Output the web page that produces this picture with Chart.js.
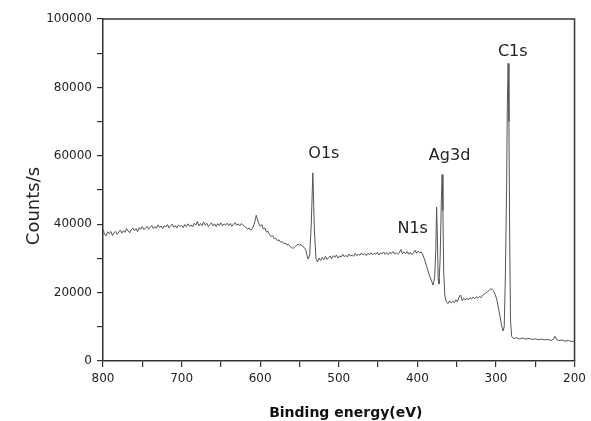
<!DOCTYPE html>
<html>
<head>
<meta charset="utf-8">
<script src="https://cdn.jsdelivr.net/npm/chart.js@4"></script>
<style>
  html, body { margin: 0; padding: 0; background: #fff; }
  #wrap { width: 591px; height: 421px; }
</style>
</head>
<body>
<div id="wrap"><canvas id="xpsChart" width="591" height="421"></canvas></div>
<script>
// XPS survey spectrum
const energy = [
  800, 798, 796, 794, 792, 790, 788, 786, 784, 782,
  780, 778, 776, 774, 772, 770, 768, 766, 764, 762,
  760, 758, 756, 754, 752, 750, 748, 746, 744, 742,
  740, 738, 736, 734, 732, 730, 728, 726, 724, 722,
  720, 718, 716, 714, 712, 710, 708, 706, 704, 702,
  700, 698, 696, 694, 692, 690, 688, 686, 684, 682,
  680, 678, 676, 674, 672, 670, 668, 666, 664, 662,
  660, 658, 656, 654, 652, 650, 648, 646, 644, 642,
  640, 638, 636, 634, 632, 630, 628, 626, 624, 622,
  620, 618, 616, 614, 612, 610, 608, 606, 605, 604,
  602, 600, 598, 596, 594, 592, 590, 588, 586, 584,
  582, 580, 578, 576, 574, 572, 570, 568, 566, 564,
  562, 560, 558, 556, 554, 552, 550, 548, 546, 544,
  542, 540, 539, 537, 535, 533, 531, 529, 527, 525,
  523, 521, 519, 517, 515, 513, 511, 509, 507, 505,
  503, 501, 499, 497, 495, 493, 491, 489, 487, 485,
  483, 481, 479, 477, 475, 473, 471, 469, 467, 465,
  463, 461, 459, 457, 455, 453, 451, 449, 447, 445,
  443, 441, 439, 437, 435, 433, 431, 429, 427, 425,
  423, 421, 419, 417, 415, 413, 411, 409, 407, 405,
  403, 401, 399, 397, 395, 393, 391, 388, 385, 382,
  380, 378, 376.5, 375.5, 374.5, 373.5, 372.5, 371, 369.5, 368.5,
  367.5, 366.5, 365, 363, 361, 359, 357, 355, 353, 351,
  349, 347, 345, 343, 341, 339, 337, 335, 333, 331,
  329, 327, 325, 323, 321, 319, 317, 315, 313, 311,
  309, 307, 305, 303, 301, 299, 296, 293, 291, 289.5,
  288, 286.5, 285.5, 284.5, 283.5, 282.5, 281.5, 280, 278, 274,
  270, 266, 262, 258, 254, 250, 246, 242, 238, 234,
  230, 227, 225, 223, 220, 216, 212, 208, 204, 200
];
const counts = [
  38500, 37000, 36600, 37800, 37200, 37900, 36700, 37500, 37900, 37000,
  37700, 38300, 37400, 38100, 37600, 38700, 38000, 37500, 38400, 38900,
  38100, 38700, 37800, 39000, 38500, 39300, 38400, 38900, 39400, 38600,
  39000, 39600, 38700, 39300, 38800, 39800, 39100, 39500, 38700, 39600,
  39200, 39900, 38900, 39500, 40000, 39100, 39600, 38900, 39800, 39300,
  39700, 39000, 39900, 39300, 40100, 39400, 39800, 39200, 40300, 39700,
  40800, 39500, 40200, 39600, 40700, 39700, 40300, 39300, 39900, 40400,
  39500, 40100, 39300, 40200, 39600, 40400, 39500, 40100, 39700, 40300,
  39600, 40200, 39400, 40000, 40500, 39700, 40100, 39500, 40200, 39800,
  39400, 39000, 38600, 38900, 38200, 38700, 39800, 41500, 42600, 41800,
  40300, 39400, 39900, 38600, 38900, 37700, 37900, 37000, 36400, 36600,
  35700, 35900, 35200, 35400, 34800, 34900, 34300, 34500, 33900, 34100,
  33500, 33200, 32900, 33400, 33700, 34200, 33800, 34100, 33500, 33200,
  32500, 30500, 29800, 31000, 40000, 55000, 38000, 30000, 29000, 30100,
  29400, 30300, 29600, 30600, 29700, 30200, 30700, 29900, 30800, 30300,
  31000, 30100, 30700, 30400, 31200, 30500, 30900, 30400, 31300, 30700,
  31000, 30600, 31500, 30800, 31200, 30900, 31600, 31000, 31400, 30800,
  31500, 31100, 31700, 31000, 31500, 31200, 31800, 31000, 31600, 31300,
  31900, 31200, 31700, 31100, 31800, 31400, 32000, 31300, 31700, 31200,
  31600, 32600, 31400, 31900, 31300, 32000, 31200, 31800, 31100, 31600,
  32400, 31500, 32100, 31600, 31900, 31000, 29800, 27500, 25200, 23400,
  22200, 24500, 33000, 45000, 36000, 24000, 22500, 30000, 47000, 54500,
  44000, 26000, 19000, 17200, 16800, 17600, 17000, 17500, 17100, 17900,
  17300, 18700, 19300, 17600, 18300, 17800, 18400, 17900, 18500, 18100,
  18700, 18200, 18800, 18400, 18900, 18500, 19200, 19500, 19900, 20200,
  20600, 21100, 21000, 20500, 19500, 18000, 14500, 10500, 8800, 10000,
  25000, 50000, 75000, 87000, 70000, 35000, 12000, 7200, 6600, 6800,
  6500, 6700, 6400, 6600, 6300, 6500, 6200, 6400, 6200, 6300,
  6000, 6400, 7200, 6300, 6000, 6100, 5800, 6000, 5700, 5800
];

// peak labels (in data units)
const peakNames = ['O1s', 'N1s', 'Ag3d', 'C1s'];
const peakLabelX = [519, 406, 359, 278.6];
const peakLabelY = [60700, 38700, 59900, 90500];

const xTitle = 'Binding energy(eV)';
const yTitle = 'Counts/s';

const spectrum = energy.map((e, i) => ({ x: e, y: counts[i] }));

Chart.defaults.font.family = '"DejaVu Sans", sans-serif';
Chart.defaults.color = '#222';

const framePlugin = {
  id: 'frame',
  beforeDraw(chart) {
    const ctx = chart.ctx;
    ctx.save();
    ctx.fillStyle = '#fff';
    ctx.fillRect(0, 0, chart.width, chart.height);
    ctx.restore();
  },
  afterDraw(chart) {
    const { ctx, chartArea: a, scales } = chart;
    ctx.save();
    // top and right border of the box
    ctx.strokeStyle = '#333';
    ctx.lineWidth = 1.5;
    ctx.beginPath();
    ctx.moveTo(a.left, a.top);
    ctx.lineTo(a.right, a.top);
    ctx.lineTo(a.right, a.bottom);
    ctx.stroke();

    ctx.textAlign = 'center';
    ctx.textBaseline = 'middle';

    // peak names
    ctx.font = '16px "DejaVu Sans"';
    ctx.fillStyle = '#222';
    peakNames.forEach((name, i) => {
      ctx.fillText(name, scales.x.getPixelForValue(peakLabelX[i]), scales.y.getPixelForValue(peakLabelY[i]));
    });

    // axis titles
    ctx.font = 'bold 14px "DejaVu Sans"';
    ctx.fillStyle = '#111';
    ctx.fillText(xTitle, (a.left + a.right) / 2 + 7, chart.height - 8);

    ctx.font = '18px "DejaVu Sans"';
    ctx.fillStyle = '#222';
    ctx.translate(34, (a.top + a.bottom) / 2 + 16);
    ctx.rotate(-Math.PI / 2);
    ctx.fillText(yTitle, 0, 0);
    ctx.restore();
  }
};

const ctx = document.getElementById('xpsChart').getContext('2d');
const xpsChart = new Chart(ctx, {
  type: 'line',
  data: {
    datasets: [{
      data: spectrum,
      borderColor: '#555',
      borderWidth: 1,
      pointRadius: 0,
      tension: 0,
      fill: false
    }]
  },
  options: {
    responsive: false,
    animation: false,
    layout: { padding: { top: 19, right: 12, left: 0, bottom: 0 } },
    plugins: {
      legend: { display: false },
      tooltip: { enabled: false }
    },
    scales: {
      x: {
        type: 'linear',
        min: 200,
        max: 800,
        reverse: true,
        afterFit(scale) { scale.height = 60; },
        ticks: {
          stepSize: 50,
          autoSkip: false,
          maxRotation: 0,
          padding: 5,
          font: { size: 12 },
          callback: v => (v % 100 === 0 ? v : '')
        },
        grid: { drawOnChartArea: false, tickLength: 6, color: '#333', lineWidth: 1.2 },
        border: { color: '#333', width: 1.5 }
      },
      y: {
        min: 0,
        max: 100000,
        afterFit(scale) { scale.width = 103; },
        ticks: {
          stepSize: 10000,
          autoSkip: false,
          padding: 5,
          font: { size: 12 },
          callback: v => (v % 20000 === 0 ? v : '')
        },
        grid: { drawOnChartArea: false, tickLength: 6, color: '#333', lineWidth: 1.2 },
        border: { color: '#333', width: 1.5 }
      }
    }
  },
  plugins: [framePlugin]
});
</script>
</body>
</html>
